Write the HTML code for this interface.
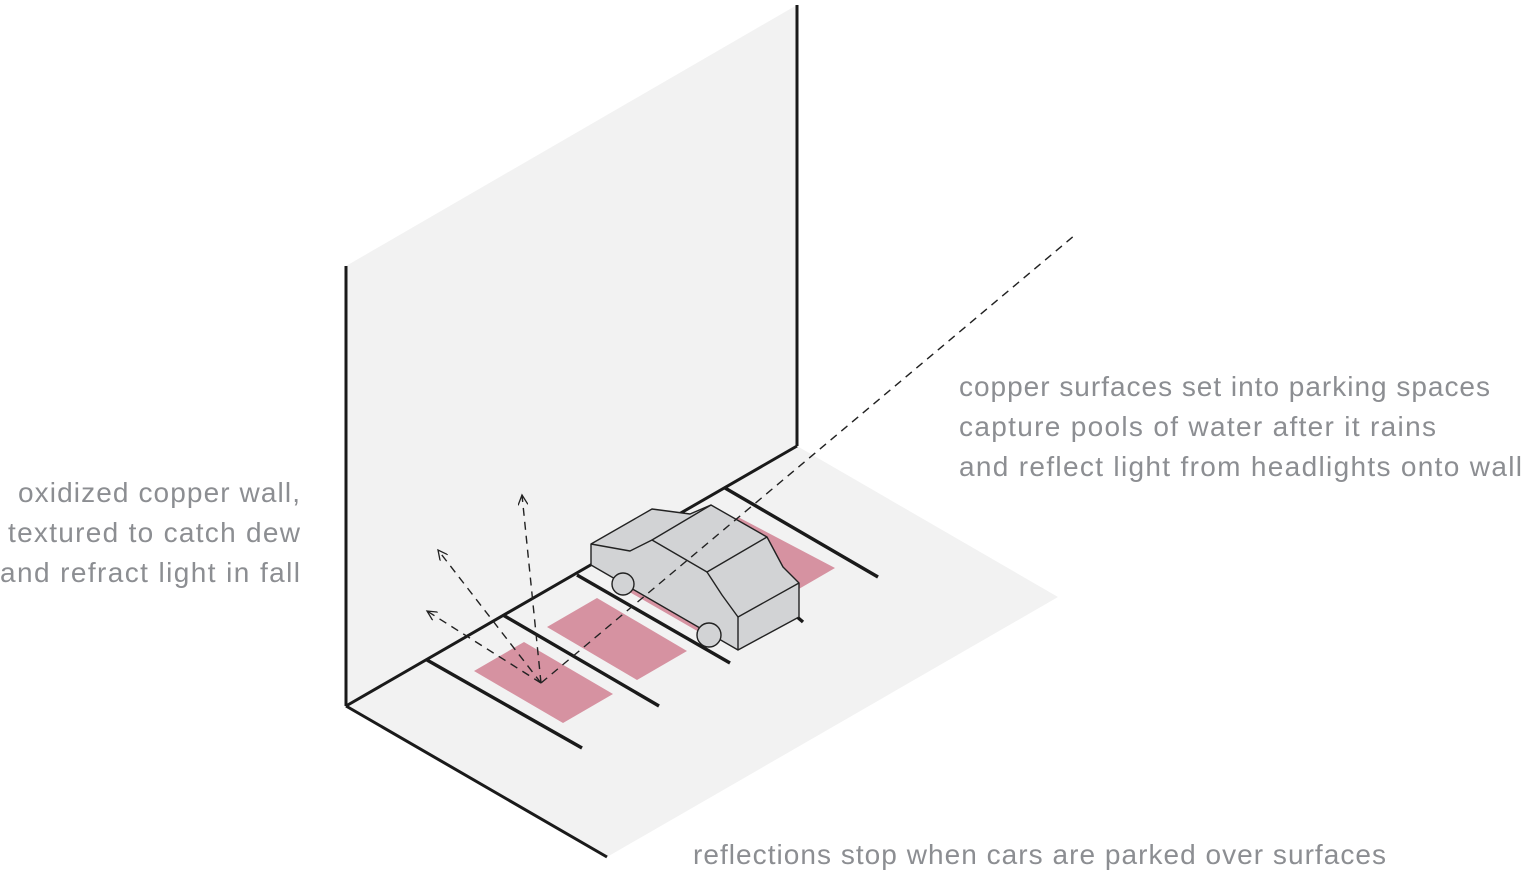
<!DOCTYPE html>
<html><head><meta charset="utf-8"><style>
html,body{margin:0;padding:0;background:#fff;}
svg{display:block;}
text{font-family:"Liberation Sans",sans-serif;font-size:28px;fill:#8c8e92;}
</style></head><body>
<svg width="1528" height="872" viewBox="0 0 1528 872" xmlns="http://www.w3.org/2000/svg">
<defs>
<marker id="ah" markerWidth="12" markerHeight="10" refX="10" refY="5" orient="auto" markerUnits="userSpaceOnUse">
<path d="M0,0 L10,5 L0,10" fill="none" stroke="#222" stroke-width="1.3"/>
</marker>
</defs>
<polygon points="346,266 797,5 797,446 346,706" fill="#f2f2f2"/>
<polygon points="346,706 797,446 1058,597 607,857" fill="#f2f2f2"/>
<line x1="346" y1="266" x2="346" y2="706" stroke="#1a1a1a" stroke-width="3"/>
<line x1="797" y1="5" x2="797" y2="446" stroke="#1a1a1a" stroke-width="3"/>
<line x1="346" y1="706" x2="797" y2="446" stroke="#1a1a1a" stroke-width="3"/>
<line x1="346" y1="706" x2="607" y2="857" stroke="#1a1a1a" stroke-width="3"/>
<g stroke="#1a1a1a" stroke-width="3.4">
<line x1="427" y1="660" x2="582" y2="748"/>
<line x1="503" y1="615" x2="659" y2="706"/>
<line x1="577" y1="575" x2="730" y2="663"/>
<line x1="725" y1="488" x2="878" y2="577"/>
<line x1="796" y1="616" x2="803" y2="622"/>
</g>
<g fill="#d692a1">
<polygon points="474,671 524,642 613,694 563,723"/>
<polygon points="547,627 597,598 687,651 637,680"/>
<polygon points="690,545 738,517 835,568 785,597"/>
<polygon points="626,590 634,584 707,626 699,632"/>
</g>
<g stroke="#222" stroke-width="1.4" stroke-linejoin="round" fill="#d2d3d5">
<polygon points="591,544 652,509 690,514 711,505 767,537 783,567 799,583 799,617 738,650 591,565"/>
<polyline fill="none" points="591,544 630,551 652,540 707,572 767,537"/>
<polyline fill="none" points="652,540 711,505"/>
<polyline fill="none" points="707,572 722,595 738,617 799,583"/>
<line x1="738" y1="617" x2="738" y2="650"/>
<circle cx="623" cy="584" r="11"/>
<circle cx="709" cy="635" r="12"/>
</g>
<g stroke="#222" stroke-width="1.4" fill="none" stroke-dasharray="8,6">
<line x1="541" y1="683" x2="1075" y2="235"/>
<line x1="541" y1="683" x2="522" y2="495" marker-end="url(#ah)"/>
<line x1="541" y1="683" x2="438" y2="550" marker-end="url(#ah)"/>
<line x1="541" y1="683" x2="427" y2="611" marker-end="url(#ah)"/>
</g>
<text x="300" y="502" text-anchor="end" textLength="282">oxidized copper wall,</text>
<text x="300" y="542" text-anchor="end" textLength="292">textured to catch dew</text>
<text x="300" y="582" text-anchor="end" textLength="300">and refract light in fall</text>
<text x="959" y="396" textLength="531">copper surfaces set into parking spaces</text>
<text x="959" y="436" textLength="477">capture pools of water after it rains</text>
<text x="959" y="476" textLength="563">and reflect light from headlights onto wall</text>
<text x="693" y="864" textLength="693">reflections stop when cars are parked over surfaces</text>
</svg>
</body></html>
